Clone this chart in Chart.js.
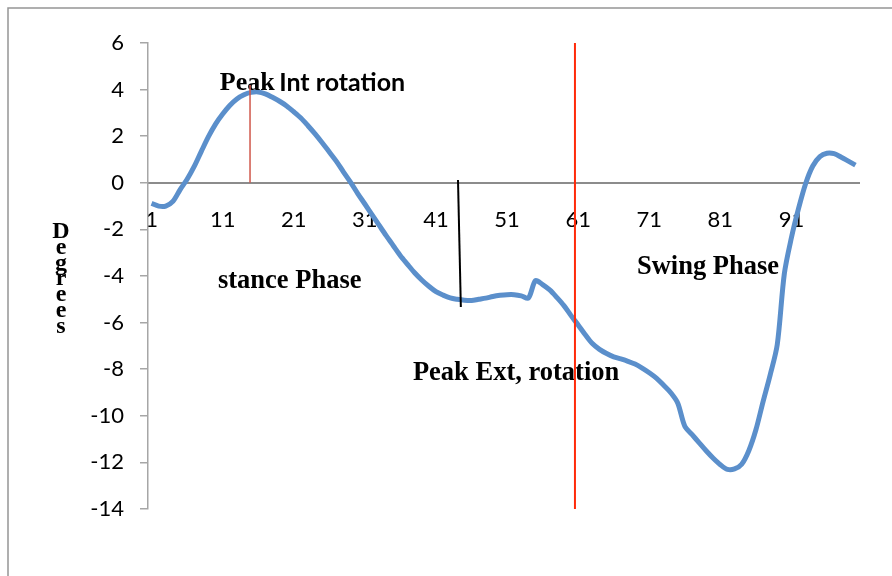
<!DOCTYPE html>
<html>
<head>
<meta charset="utf-8">
<script src="https://cdn.jsdelivr.net/npm/chart.js@4.4.0/dist/chart.umd.min.js"></script>
<style>
  html, body { margin: 0; padding: 0; background: #fff; overflow: hidden; }
  canvas { display: block; }
</style>
</head>
<body>
<canvas id="rotChart" width="892" height="576"></canvas>
<script>
// gait cycle points 1..100 (x categories)
const categories = Array.from({ length: 100 }, (_, i) => i + 1);
const tickLabels = ['1', '11', '21', '31', '41', '51', '61', '71', '81', '91'];

// rotation in degrees
const rotation = [
  -0.88, -1.0, -1.0, -0.8, -0.3, 0.15, 0.7, 1.35, 1.98, 2.52,
  2.95, 3.32, 3.6, 3.78, 3.88, 3.9, 3.82, 3.67, 3.5, 3.3,
  3.05, 2.78, 2.45, 2.1, 1.72, 1.32, 0.92, 0.46, 0.02, -0.46,
  -0.91, -1.37, -1.82, -2.27, -2.7, -3.13, -3.5, -3.86, -4.17, -4.44,
  -4.67, -4.82, -4.94, -5.0, -5.04, -5.05, -5.0, -4.95, -4.88, -4.83,
  -4.8, -4.8, -4.85, -4.95, -4.2, -4.37, -4.6, -4.92, -5.27, -5.7,
  -6.1, -6.52, -6.9, -7.15, -7.33, -7.47, -7.56, -7.66, -7.78, -7.95,
  -8.15, -8.38, -8.68, -9.0, -9.45, -10.45, -10.8, -11.15, -11.5, -11.82,
  -12.1, -12.3, -12.28, -12.08, -11.5, -10.6, -9.4, -8.25, -6.95, -3.9,
  -2.35, -1.1, -0.03, 0.72, 1.12, 1.27, 1.25, 1.1, 0.93, 0.76
];

// annotation text, positions given in (category, degrees)
const noteTexts = ['stance Phase', 'Swing Phase', 'Peak Ext, rotation'];
const noteCats = [10.34, 69.27, 37.76];
const noteVals = [-4.21, -3.61, -8.16];

// marker lines: [cat1, val1, cat2, val2, colour, width]
const markerLines = [
  [14.85, 4.2, 14.85, 0, '#d0574a', 1.5],
  [44.1, 0.12, 44.5, -5.33, '#000000', 2],
  [60.55, 6, 60.55, -14, '#ff2a0a', 2]
];

const yTitle = 'Degrees';

const notesPlugin = {
  id: 'notes',
  beforeDraw(chart) {
    const ctx = chart.ctx;
    ctx.save();
    ctx.strokeStyle = '#959595';
    ctx.lineWidth = 1.5;
    ctx.strokeRect(8, 8, 1000, 1000);
    ctx.restore();
  },
  afterDatasetsDraw(chart) {
    const { ctx, scales: { x, y } } = chart;
    const px = c => x.getPixelForValue(c - 1);
    ctx.save();

    // text labels
    ctx.fillStyle = '#000';
    ctx.textBaseline = 'middle';
    ctx.textAlign = 'left';
    ctx.font = 'bold 26px "Liberation Serif"';
    const sx = px(10.6), sy = y.getPixelForValue(4.28);
    ctx.fillText('Peak ', sx, sy);
    const w = ctx.measureText('Peak ').width;
    ctx.font = 'bold 25px Lato';
    ctx.fillText('Int rotation', sx + w - 2, sy);

    ctx.font = 'bold 26.5px "Liberation Serif"';
    noteTexts.forEach((t, i) => {
      ctx.fillText(t, px(noteCats[i]), y.getPixelForValue(noteVals[i]));
    });

    // stacked y title
    ctx.font = 'bold 24px "Liberation Serif"';
    ctx.textAlign = 'center';
    ctx.textBaseline = 'alphabetic';
    yTitle.split('').forEach((ch, i) => {
      ctx.fillText(ch, 61, 238 + i * 15.8);
    });

    // marker lines
    markerLines.forEach(([c1, v1, c2, v2, col, lw]) => {
      ctx.beginPath();
      ctx.strokeStyle = col;
      ctx.lineWidth = lw;
      ctx.moveTo(px(c1), y.getPixelForValue(v1));
      ctx.lineTo(px(c2), y.getPixelForValue(v2));
      ctx.stroke();
    });
    ctx.restore();
  }
};

const tickFont = { family: 'Lato', size: 22 };

new Chart(document.getElementById('rotChart'), {
  type: 'line',
  data: {
    labels: categories,
    datasets: [{
      label: 'Rotation',
      data: rotation,
      borderColor: '#5b8fcb',
      borderWidth: 5,
      pointRadius: 0,
      tension: 0.3,
      fill: false
    }]
  },
  options: {
    responsive: false,
    animation: false,
    layout: { padding: { left: 0, top: 43, right: 33, bottom: 67 } },
    plugins: { legend: { display: false }, tooltip: { enabled: false } },
    scales: {
      x: {
        type: 'category',
        position: { y: 0 },
        offset: true,
        grid: { display: false },
        border: { display: true, color: '#8c8c8c', width: 2 },
        ticks: {
          autoSkip: false,
          maxRotation: 0,
          minRotation: 0,
          padding: 16,
          color: '#000',
          font: tickFont,
          callback: (val, idx) => tickLabels.includes(String(categories[idx])) ? String(categories[idx]) : ''
        },
        afterFit(s) { s.height = 0; }
      },
      y: {
        min: -14,
        max: 6,
        ticks: { stepSize: 2, padding: 16, color: '#000', font: tickFont },
        grid: { drawOnChartArea: false, drawTicks: true, tickLength: 8, color: '#a6a6a6', lineWidth: 1.5 },
        border: { color: '#a6a6a6', width: 1.5 },
        afterFit(s) { s.width = 148; }
      }
    }
  },
  plugins: [notesPlugin]
});
</script>
</body>
</html>
